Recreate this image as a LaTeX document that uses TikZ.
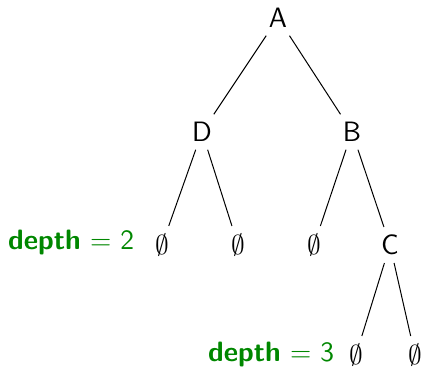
\documentclass[tikz,border=0pt]{standalone}
\usepackage{xcolor}
\usepackage{amsmath}
\usepackage{tikz}
\usetikzlibrary{positioning}
\definecolor{depthgreen}{RGB}{0,135,0}

\begin{document}
\begin{tikzpicture}[x=0.4pt,y=-0.4pt,font=\sffamily\fontsize{11.2}{13}\selectfont,
    vert/.style={inner sep=3pt},
    depthlabel/.style={text=depthgreen,anchor=east}]
    \useasboundingbox (0,0) rectangle (423,371);
    \node[vert] (a) at (278,18) {A};
    \node[vert] (d) at (202,132) {D};
    \node[vert] (b) at (352,132) {B};
    \node[vert] (d1) at (162,245) {$\emptyset$};
    \node[vert] (d2) at (238,245) {$\emptyset$};
    \node[vert] (b1) at (314,245) {$\emptyset$};
    \node[vert] (c) at (390,245) {C};
    \node[vert] (c1) at (356,355) {$\emptyset$};
    \node[vert] (c2) at (415,355) {$\emptyset$};
    \node[depthlabel] (dtwo) at (143,243) {\textbf{depth} $=$ 2};
    \node[depthlabel] (dthree) at (343,355) {\textbf{depth} $=$ 3};
    \draw (a) -- (d);
    \draw (a) -- (b);
    \draw (d) -- (d1);
    \draw (d) -- (d2);
    \draw (b) -- (b1);
    \draw (b) -- (c);
    \draw (c) -- (c1);
    \draw (c) -- (c2);
  \end{tikzpicture}
\end{document}
